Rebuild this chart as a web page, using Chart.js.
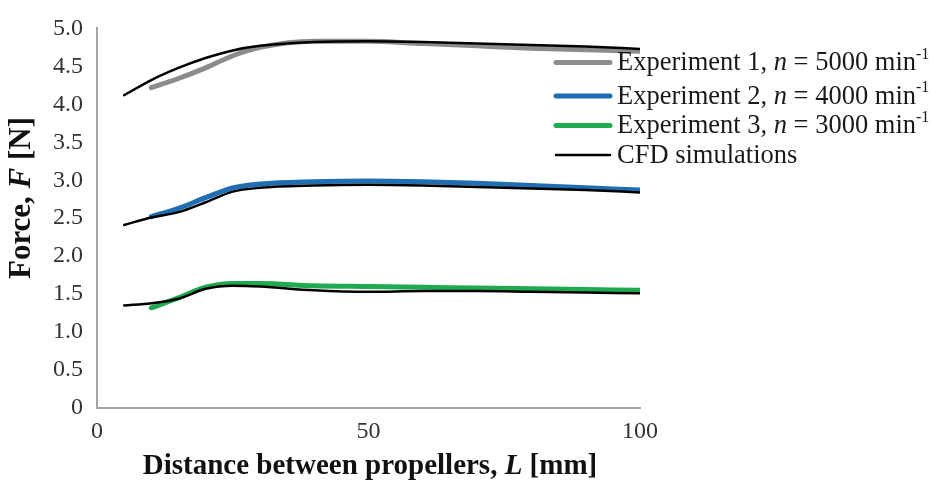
<!DOCTYPE html>
<html>
<head>
<meta charset="utf-8">
<script src="https://cdn.jsdelivr.net/npm/chart.js@4/dist/chart.umd.min.js"></script>
<style>
  html, body { margin: 0; padding: 0; background: #fff; }
  #wrap { width: 936px; height: 482px; position: relative; }
</style>
</head>
<body>
<div id="wrap"><canvas id="chart" width="936" height="482"></canvas></div>
<script>
// --- data ---
const cfdDistance = [5, 10, 15, 20, 25, 30, 40, 50, 60, 70, 80, 90, 100];
const expDistance = [10, 15, 20, 25, 30, 40, 50, 60, 70, 80, 90, 100];

const exp1 = [4.22, 4.34, 4.48, 4.64, 4.75, 4.83, 4.83, 4.80, 4.77, 4.74, 4.72, 4.70];
const exp2 = [2.52, 2.63, 2.77, 2.90, 2.95, 2.98, 2.99, 2.98, 2.96, 2.93, 2.90, 2.87];
const exp3 = [1.32, 1.45, 1.59, 1.64, 1.64, 1.61, 1.60, 1.59, 1.58, 1.57, 1.56, 1.55];

const cfd1 = [4.12, 4.32, 4.48, 4.61, 4.71, 4.77, 4.82, 4.83, 4.82, 4.80, 4.78, 4.76, 4.73];
const cfd2 = [2.41, 2.51, 2.58, 2.71, 2.85, 2.90, 2.93, 2.94, 2.93, 2.91, 2.89, 2.87, 2.84];
const cfd3 = [1.35, 1.38, 1.44, 1.57, 1.61, 1.60, 1.55, 1.53, 1.54, 1.54, 1.53, 1.52, 1.51];

const rpm = ['5000', '4000', '3000'];
const expColors = ['#8c8c8c', '#1f6db3', '#1faa4f'];
const cfdColor = '#000000';

const serif = '"Liberation Serif", "DejaVu Serif", serif';

function toPoints(xs, ys) {
    return xs.map((x, i) => ({ x: x, y: ys[i] }));
}

function expSet(ys, i) {
    return {
        label: 'Experiment ' + (i + 1),
        data: toPoints(expDistance, ys),
        borderColor: expColors[i],
        borderWidth: 5,
        borderCapStyle: 'round',
        pointRadius: 0,
        cubicInterpolationMode: 'monotone',
        order: 2
    };
}

function cfdSet(ys) {
    return {
        label: 'CFD simulations',
        data: toPoints(cfdDistance, ys),
        borderColor: cfdColor,
        borderWidth: 2.5,
        borderCapStyle: 'round',
        pointRadius: 0,
        cubicInterpolationMode: 'monotone',
        order: 1
    };
}

// draw a run of text pieces with different fonts, starting at x
function drawParts(ctx, parts, x, y) {
    parts.forEach(p => {
        ctx.font = p.font;
        const dy = p.raise || 0;
        ctx.fillText(p.text, x, y - dy);
        x += ctx.measureText(p.text).width;
    });
    return x;
}

function partsWidth(ctx, parts) {
    let w = 0;
    parts.forEach(p => { ctx.font = p.font; w += ctx.measureText(p.text).width; });
    return w;
}

// --- titles and legend (mixed italic / superscript) ---
const extras = {
    id: 'extras',
    afterDraw(chart) {
        const ctx = chart.ctx;
        ctx.save();
        ctx.fillStyle = '#111';
        ctx.textBaseline = 'middle';
        ctx.textAlign = 'left';

        // x title
        const b = 'bold 29px ' + serif;
        const bi = 'bold italic 29px ' + serif;
        const xt = [
            { text: 'Distance between propellers, ', font: b },
            { text: 'L', font: bi },
            { text: ' [mm]', font: b }
        ];
        drawParts(ctx, xt, 370 - partsWidth(ctx, xt) / 2, 467);

        // y title, rotated
        const yb = 'bold 31px ' + serif;
        const ybi = 'bold italic 31px ' + serif;
        const yt = [
            { text: 'Force, ', font: yb },
            { text: 'F', font: ybi },
            { text: ' [N]', font: yb }
        ];
        ctx.save();
        ctx.translate(22, 198);
        ctx.rotate(-Math.PI / 2);
        drawParts(ctx, yt, -partsWidth(ctx, yt) / 2, 0);
        ctx.restore();

        // legend
        const r = '26.5px ' + serif;
        const it = 'italic 26.5px ' + serif;
        const sup = '16px ' + serif;
        const rows = [62.5, 96, 125.5, 155];
        ctx.lineCap = 'round';
        for (let i = 0; i < 4; i++) {
            ctx.beginPath();
            ctx.moveTo(556, rows[i]);
            ctx.lineTo(610, rows[i]);
            ctx.strokeStyle = i < 3 ? expColors[i] : cfdColor;
            ctx.lineWidth = i < 3 ? 5 : 2.5;
            ctx.stroke();
            let parts;
            if (i < 3) {
                parts = [
                    { text: 'Experiment ' + (i + 1) + ', ', font: r },
                    { text: 'n', font: it },
                    { text: ' = ' + rpm[i] + ' min', font: r },
                    { text: '-1', font: sup, raise: 9 }
                ];
            } else {
                parts = [{ text: 'CFD simulations', font: r }];
            }
            ctx.fillStyle = '#1a1a1a';
            drawParts(ctx, parts, 617, rows[i] + 1);
        }
        ctx.restore();
    }
};

new Chart(document.getElementById('chart'), {
    type: 'line',
    data: {
        datasets: [
            expSet(exp1, 0), expSet(exp2, 1), expSet(exp3, 2),
            cfdSet(cfd1), cfdSet(cfd2), cfdSet(cfd3)
        ]
    },
    options: {
        responsive: false,
        animation: false,
        layout: { padding: { top: 21, right: 296, left: 0, bottom: 0 } },
        plugins: {
            legend: { display: false },
            tooltip: { enabled: false }
        },
        scales: {
            x: {
                type: 'linear',
                min: 0,
                max: 100,
                grid: { display: false, drawTicks: false },
                border: { display: true, color: '#a6a6a6', width: 2 },
                ticks: {
                    stepSize: 50,
                    padding: 9,
                    color: '#333',
                    font: { family: serif, size: 24 },
                    maxRotation: 0
                },
                afterFit(scale) { scale.height = 74; }
            },
            y: {
                min: 0,
                max: 5,
                grid: { display: false, drawTicks: false },
                border: { display: true, color: '#a6a6a6', width: 2 },
                ticks: {
                    stepSize: 0.5,
                    padding: 14,
                    color: '#333',
                    font: { family: serif, size: 24 },
                    callback: v => v === 0 ? '0' : v.toFixed(1)
                },
                afterFit(scale) { scale.width = 97; }
            }
        }
    },
    plugins: [extras]
});
</script>
</body>
</html>
